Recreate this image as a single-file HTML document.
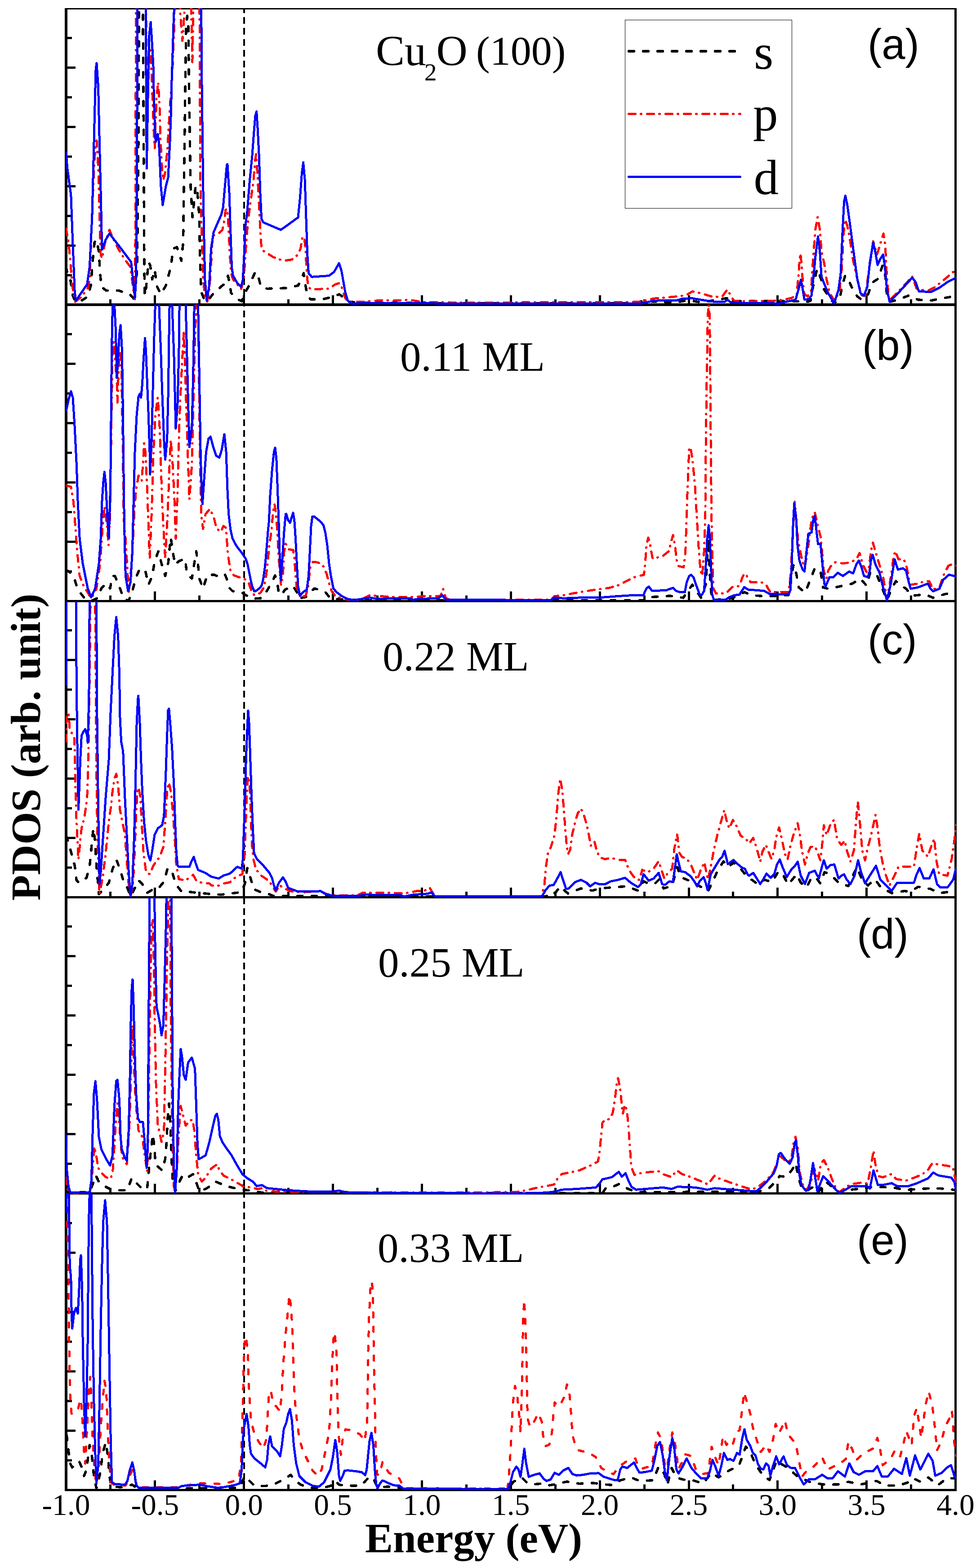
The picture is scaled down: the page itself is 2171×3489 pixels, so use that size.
<!DOCTYPE html>
<html><head><meta charset="utf-8"><title>PDOS</title>
<style>
html,body{margin:0;padding:0;background:#fff;}
body{width:2171px;height:3489px;overflow:hidden;position:relative;}
svg{position:absolute;left:0;top:0;}
.t{font-family:"Liberation Serif","Times New Roman",serif;}
.s{font-family:"Liberation Sans",Arial,sans-serif;}
</style></head><body>
<svg width="2171" height="3489" viewBox="0 0 2171 3489" shape-rendering="crispEdges">
<rect x="0" y="0" width="2171" height="3489" fill="#fff"/>
<line x1="543" y1="21" x2="543" y2="3313" stroke="#000" stroke-width="4" stroke-dasharray="15 9.18" stroke-dashoffset="7"/>
<g fill="#000">
<rect x="144" y="18" width="6" height="3300"/>
<rect x="2123" y="18" width="5" height="3300"/>
<rect x="144" y="18" width="1984" height="3"/>
<rect x="144" y="675" width="1984" height="6"/>
<rect x="144" y="1335" width="1984" height="5"/>
<rect x="144" y="1994" width="1984" height="5"/>
<rect x="144" y="2653" width="1984" height="5"/>
<rect x="144" y="3313" width="1984" height="5"/>
</g>
<g fill="#000">
<rect x="243.4" y="665.5" width="5" height="10"/>
<rect x="342.4" y="656.5" width="5" height="19"/>
<rect x="441.3" y="665.5" width="5" height="10"/>
<rect x="540.2" y="656.5" width="5" height="19"/>
<rect x="639.1" y="665.5" width="5" height="10"/>
<rect x="738.0" y="656.5" width="5" height="19"/>
<rect x="837.0" y="665.5" width="5" height="10"/>
<rect x="935.9" y="656.5" width="5" height="19"/>
<rect x="1034.8" y="665.5" width="5" height="10"/>
<rect x="1133.8" y="656.5" width="5" height="19"/>
<rect x="1232.7" y="665.5" width="5" height="10"/>
<rect x="1331.6" y="656.5" width="5" height="19"/>
<rect x="1430.5" y="665.5" width="5" height="10"/>
<rect x="1529.5" y="656.5" width="5" height="19"/>
<rect x="1628.4" y="665.5" width="5" height="10"/>
<rect x="1727.3" y="656.5" width="5" height="19"/>
<rect x="1826.2" y="665.5" width="5" height="10"/>
<rect x="1925.1" y="656.5" width="5" height="19"/>
<rect x="2024.1" y="665.5" width="5" height="10"/>
<rect x="150" y="609.5" width="10" height="5"/>
<rect x="150" y="543.5" width="18" height="5"/>
<rect x="150" y="477.5" width="10" height="5"/>
<rect x="150" y="411.5" width="18" height="5"/>
<rect x="150" y="345.5" width="10" height="5"/>
<rect x="150" y="279.5" width="18" height="5"/>
<rect x="150" y="213.5" width="10" height="5"/>
<rect x="150" y="147.5" width="18" height="5"/>
<rect x="150" y="81.5" width="10" height="5"/>
<rect x="243.4" y="1325.0" width="5" height="10"/>
<rect x="342.4" y="1316.0" width="5" height="19"/>
<rect x="441.3" y="1325.0" width="5" height="10"/>
<rect x="540.2" y="1316.0" width="5" height="19"/>
<rect x="639.1" y="1325.0" width="5" height="10"/>
<rect x="738.0" y="1316.0" width="5" height="19"/>
<rect x="837.0" y="1325.0" width="5" height="10"/>
<rect x="935.9" y="1316.0" width="5" height="19"/>
<rect x="1034.8" y="1325.0" width="5" height="10"/>
<rect x="1133.8" y="1316.0" width="5" height="19"/>
<rect x="1232.7" y="1325.0" width="5" height="10"/>
<rect x="1331.6" y="1316.0" width="5" height="19"/>
<rect x="1430.5" y="1325.0" width="5" height="10"/>
<rect x="1529.5" y="1316.0" width="5" height="19"/>
<rect x="1628.4" y="1325.0" width="5" height="10"/>
<rect x="1727.3" y="1316.0" width="5" height="19"/>
<rect x="1826.2" y="1325.0" width="5" height="10"/>
<rect x="1925.1" y="1316.0" width="5" height="19"/>
<rect x="2024.1" y="1325.0" width="5" height="10"/>
<rect x="150" y="1269.0" width="10" height="5"/>
<rect x="150" y="1203.0" width="18" height="5"/>
<rect x="150" y="1137.0" width="10" height="5"/>
<rect x="150" y="1071.0" width="18" height="5"/>
<rect x="150" y="1005.0" width="10" height="5"/>
<rect x="150" y="939.0" width="18" height="5"/>
<rect x="150" y="873.0" width="10" height="5"/>
<rect x="150" y="807.0" width="18" height="5"/>
<rect x="150" y="741.0" width="10" height="5"/>
<rect x="243.4" y="1984.0" width="5" height="10"/>
<rect x="342.4" y="1975.0" width="5" height="19"/>
<rect x="441.3" y="1984.0" width="5" height="10"/>
<rect x="540.2" y="1975.0" width="5" height="19"/>
<rect x="639.1" y="1984.0" width="5" height="10"/>
<rect x="738.0" y="1975.0" width="5" height="19"/>
<rect x="837.0" y="1984.0" width="5" height="10"/>
<rect x="935.9" y="1975.0" width="5" height="19"/>
<rect x="1034.8" y="1984.0" width="5" height="10"/>
<rect x="1133.8" y="1975.0" width="5" height="19"/>
<rect x="1232.7" y="1984.0" width="5" height="10"/>
<rect x="1331.6" y="1975.0" width="5" height="19"/>
<rect x="1430.5" y="1984.0" width="5" height="10"/>
<rect x="1529.5" y="1975.0" width="5" height="19"/>
<rect x="1628.4" y="1984.0" width="5" height="10"/>
<rect x="1727.3" y="1975.0" width="5" height="19"/>
<rect x="1826.2" y="1984.0" width="5" height="10"/>
<rect x="1925.1" y="1975.0" width="5" height="19"/>
<rect x="2024.1" y="1984.0" width="5" height="10"/>
<rect x="150" y="1928.0" width="10" height="5"/>
<rect x="150" y="1862.0" width="18" height="5"/>
<rect x="150" y="1796.0" width="10" height="5"/>
<rect x="150" y="1730.0" width="18" height="5"/>
<rect x="150" y="1664.0" width="10" height="5"/>
<rect x="150" y="1598.0" width="18" height="5"/>
<rect x="150" y="1532.0" width="10" height="5"/>
<rect x="150" y="1466.0" width="18" height="5"/>
<rect x="150" y="1400.0" width="10" height="5"/>
<rect x="243.4" y="2643.0" width="5" height="10"/>
<rect x="342.4" y="2634.0" width="5" height="19"/>
<rect x="441.3" y="2643.0" width="5" height="10"/>
<rect x="540.2" y="2634.0" width="5" height="19"/>
<rect x="639.1" y="2643.0" width="5" height="10"/>
<rect x="738.0" y="2634.0" width="5" height="19"/>
<rect x="837.0" y="2643.0" width="5" height="10"/>
<rect x="935.9" y="2634.0" width="5" height="19"/>
<rect x="1034.8" y="2643.0" width="5" height="10"/>
<rect x="1133.8" y="2634.0" width="5" height="19"/>
<rect x="1232.7" y="2643.0" width="5" height="10"/>
<rect x="1331.6" y="2634.0" width="5" height="19"/>
<rect x="1430.5" y="2643.0" width="5" height="10"/>
<rect x="1529.5" y="2634.0" width="5" height="19"/>
<rect x="1628.4" y="2643.0" width="5" height="10"/>
<rect x="1727.3" y="2634.0" width="5" height="19"/>
<rect x="1826.2" y="2643.0" width="5" height="10"/>
<rect x="1925.1" y="2634.0" width="5" height="19"/>
<rect x="2024.1" y="2643.0" width="5" height="10"/>
<rect x="150" y="2587.0" width="10" height="5"/>
<rect x="150" y="2521.0" width="18" height="5"/>
<rect x="150" y="2455.0" width="10" height="5"/>
<rect x="150" y="2389.0" width="18" height="5"/>
<rect x="150" y="2323.0" width="10" height="5"/>
<rect x="150" y="2257.0" width="18" height="5"/>
<rect x="150" y="2191.0" width="10" height="5"/>
<rect x="150" y="2125.0" width="18" height="5"/>
<rect x="150" y="2059.0" width="10" height="5"/>
<rect x="243.4" y="3303.0" width="5" height="10"/>
<rect x="342.4" y="3294.0" width="5" height="19"/>
<rect x="441.3" y="3303.0" width="5" height="10"/>
<rect x="540.2" y="3294.0" width="5" height="19"/>
<rect x="639.1" y="3303.0" width="5" height="10"/>
<rect x="738.0" y="3294.0" width="5" height="19"/>
<rect x="837.0" y="3303.0" width="5" height="10"/>
<rect x="935.9" y="3294.0" width="5" height="19"/>
<rect x="1034.8" y="3303.0" width="5" height="10"/>
<rect x="1133.8" y="3294.0" width="5" height="19"/>
<rect x="1232.7" y="3303.0" width="5" height="10"/>
<rect x="1331.6" y="3294.0" width="5" height="19"/>
<rect x="1430.5" y="3303.0" width="5" height="10"/>
<rect x="1529.5" y="3294.0" width="5" height="19"/>
<rect x="1628.4" y="3303.0" width="5" height="10"/>
<rect x="1727.3" y="3294.0" width="5" height="19"/>
<rect x="1826.2" y="3303.0" width="5" height="10"/>
<rect x="1925.1" y="3294.0" width="5" height="19"/>
<rect x="2024.1" y="3303.0" width="5" height="10"/>
<rect x="150" y="3247.0" width="10" height="5"/>
<rect x="150" y="3181.0" width="18" height="5"/>
<rect x="150" y="3115.0" width="10" height="5"/>
<rect x="150" y="3049.0" width="18" height="5"/>
<rect x="150" y="2983.0" width="10" height="5"/>
<rect x="150" y="2917.0" width="18" height="5"/>
<rect x="150" y="2851.0" width="10" height="5"/>
<rect x="150" y="2785.0" width="18" height="5"/>
<rect x="150" y="2719.0" width="10" height="5"/>
</g>
<defs><clipPath id="c0"><rect x="146" y="18" width="1981" height="672"/></clipPath><clipPath id="c1"><rect x="146" y="677.5" width="1981" height="672.5"/></clipPath><clipPath id="c2"><rect x="146" y="1337.5" width="1981" height="672.5"/></clipPath><clipPath id="c3"><rect x="146" y="1996.5" width="1981" height="673.5"/></clipPath><clipPath id="c4"><rect x="146" y="2655.5" width="1981" height="674.5"/></clipPath></defs>
<g clip-path="url(#c0)" fill="none" stroke-linejoin="round">
<polyline points="146.9,594.0 151.0,613.5 156.5,621.7 162.0,657.6 167.6,671.4 181.4,668.6 195.2,660.3 202.0,635.5 206.2,580.4 210.3,539.0 215.0,533.5 220.0,561.0 222.7,608.0 225.5,638.3 236.5,646.6 264.1,646.6 288.9,654.8 298.6,665.9 305.0,600.0 308.0,300.0 309.5,-40.0 317.5,-40.0 319.5,300.0 321.0,600.0 322.0,657.6 325.0,640.0 330.3,583.0 334.0,590.0 338.6,621.7 344.0,600.0 349.6,638.3 357.9,654.8 368.9,635.5 380.0,594.0 385.4,552.8 393.7,550.0 403.4,580.4 407.5,539.0 408.9,428.7 411.6,235.6 414.0,60.0 416.5,35.0 419.0,60.0 421.0,235.0 424.0,415.0 428.2,483.8 435.0,415.0 438.0,415.0 443.4,483.8 444.7,566.6 447.5,649.3 453.0,663.0 460.0,671.4 471.0,657.6 475.5,652.1 497.6,632.8 507.2,613.5 511.4,635.5 514.1,652.1 527.9,665.9 537.6,670.0 544.5,652.1 555.5,632.8 566.5,608.0 570.7,605.2 576.2,621.7 580.3,638.3 594.1,642.4 635.5,641.0 663.0,635.5 672.7,616.2 675.5,608.0 679.6,635.5 683.7,657.6 690.6,665.9 718.2,665.9 745.8,659.0 754.1,654.8 762.3,660.3 773.4,671.4 810.0,674.0 1400.0,675.0 1431.7,670.0 1500.0,673.0 1532.0,668.0 1560.0,673.0 1619.6,663.0 1630.0,670.0 1770.0,670.0 1791.8,672.9 1802.8,669.2 1809.0,635.0 1817.5,598.2 1826.1,620.3 1833.4,644.7 1843.2,659.4 1855.4,675.3 1867.7,664.3 1873.8,635.0 1880.0,613.0 1887.3,622.7 1897.0,644.7 1906.8,659.4 1916.6,666.8 1931.3,654.5 1938.7,630.0 1953.3,620.3 1963.1,590.9 1968.0,600.0 1972.9,657.0 1979.0,671.7 1997.4,666.8 2023.1,657.0 2041.4,666.8 2068.4,669.2 2092.8,664.3 2114.9,660.6 2127.0,659.4" stroke="#000" stroke-width="5.5" stroke-linecap="round" stroke-dasharray="11 21"/>
<polyline points="146.9,508.6 152.4,539.0 156.5,580.4 160.7,635.5 167.6,671.4 181.4,660.3 195.2,641.0 199.3,621.7 204.8,483.8 209.0,373.5 213.1,318.4 215.0,312.8 218.6,373.5 221.4,483.8 224.1,566.6 226.9,574.8 233.8,539.0 243.4,511.4 250.3,528.0 264.1,555.5 277.9,577.6 290.3,594.2 297.2,649.3 300.0,665.9 301.5,483.8 302.0,200.0 302.5,-40.0 324.5,-40.0 325.5,100.0 327.0,316.0 329.5,200.0 332.0,118.0 334.5,110.0 337.5,173.5 340.7,252.7 342.3,300.0 344.0,330.0 348.0,220.0 351.8,183.0 355.0,236.8 356.5,300.0 358.1,332.0 359.7,363.6 362.9,401.0 366.8,387.0 372.4,332.0 377.1,252.7 383.5,157.6 387.4,62.5 389.0,-40.0 399.0,-40.0 401.0,30.8 405.7,91.0 410.0,30.0 412.0,-40.0 424.0,-40.0 427.9,138.6 431.0,-40.0 443.0,-40.0 444.5,100.0 445.5,400.0 448.0,500.0 452.0,621.0 456.0,660.0 461.0,671.0 466.0,640.0 470.0,580.0 472.8,525.2 486.5,519.7 494.8,511.4 499.0,489.4 501.7,467.3 504.5,464.6 507.2,483.8 511.4,566.6 514.1,608.0 518.3,621.7 527.9,632.8 536.2,643.8 542.3,621.7 545.8,566.6 550.0,511.4 552.7,483.8 558.3,442.5 563.8,401.0 567.9,354.2 569.8,343.2 572.6,387.3 576.2,456.3 578.9,511.4 581.7,552.8 585.8,558.3 607.9,572.1 630.0,580.4 649.3,577.6 663.0,566.6 668.6,552.8 672.7,528.0 676.3,526.6 679.6,552.8 682.4,608.0 685.1,635.5 690.6,643.8 732.0,642.4 745.8,632.8 754.1,630.0 759.6,638.3 767.8,663.0 776.1,672.7 810.0,671.0 850.0,668.0 880.0,669.0 910.0,667.0 940.0,672.0 1000.0,673.0 1140.0,673.0 1300.0,672.0 1400.0,672.3 1426.5,671.0 1453.0,664.3 1479.4,662.2 1511.0,659.0 1527.0,656.4 1540.2,648.5 1558.7,652.4 1585.0,660.4 1606.3,660.4 1617.5,644.5 1624.9,656.4 1632.8,669.6 1664.6,670.2 1717.5,669.6 1744.0,667.0 1760.0,663.1 1772.2,657.0 1775.9,615.4 1779.6,566.4 1780.4,563.8 1783.3,590.9 1785.7,627.6 1789.4,654.5 1796.7,659.4 1804.0,647.2 1809.0,571.3 1813.8,510.1 1818.7,483.2 1823.6,510.1 1827.3,559.1 1833.4,586.0 1838.3,620.3 1845.7,652.1 1853.0,664.3 1857.9,669.2 1867.7,644.7 1872.6,595.8 1876.2,522.4 1879.9,488.1 1884.8,502.8 1889.7,527.3 1897.0,576.2 1906.8,620.3 1916.6,657.0 1925.0,657.0 1933.8,595.8 1942.3,537.0 1950.9,566.4 1958.2,542.0 1965.1,519.9 1969.2,546.8 1972.9,620.3 1977.8,669.2 2004.7,642.3 2029.2,615.4 2039.0,642.3 2046.3,644.7 2065.9,646.0 2078.2,639.8 2102.6,620.3 2119.8,605.6 2127.0,601.9" stroke="#f00" stroke-width="5" stroke-linecap="round" stroke-dasharray="15 12 1 13"/>
<polyline points="146.9,337.7 149.7,373.5 157.9,434.0 160.7,511.4 166.2,649.3 169.0,668.6 193.8,632.8 199.3,594.0 204.8,483.8 207.6,373.5 210.3,263.2 213.1,152.9 215.0,140.5 218.6,194.3 221.4,318.4 224.1,428.7 226.9,555.5 235.1,533.5 243.4,519.7 266.9,550.0 291.7,583.1 295.8,621.7 300.0,663.0 302.7,621.7 304.1,428.7 305.5,152.9 306.0,-40.0 323.0,-40.0 324.0,18.0 326.4,374.7 329.6,173.5 332.0,78.4 335.2,49.0 339.1,110.0 341.5,157.6 342.3,221.0 344.7,284.4 346.3,316.0 351.0,298.6 353.4,316.0 355.0,347.8 357.9,414.9 362.0,456.3 368.9,414.9 374.0,395.0 378.0,316.0 380.3,252.7 381.9,181.4 384.3,110.0 385.9,54.6 387.4,18.0 388.0,-40.0 446.0,-40.0 447.7,18.0 448.9,180.5 451.6,400.0 452.5,456.3 455.8,621.7 459.9,668.6 465.4,635.5 469.6,552.8 475.1,517.0 479.7,506.0 492.0,478.3 496.2,461.8 500.3,414.9 504.5,368.0 505.9,365.2 510.0,428.7 512.7,511.4 515.5,594.2 518.3,613.5 527.9,630.0 536.2,638.3 540.3,621.7 543.1,566.6 545.8,503.1 550.0,470.0 555.5,401.0 561.0,346.0 565.1,290.8 567.9,257.7 570.7,248.0 573.4,290.8 576.2,346.0 578.9,428.7 581.7,486.6 585.8,494.9 624.4,511.4 632.7,505.9 663.0,483.8 667.2,442.5 671.3,387.3 674.6,361.1 678.2,401.0 680.9,483.8 683.7,566.6 686.5,608.0 693.4,616.2 732.0,613.5 743.0,605.2 754.1,585.9 759.6,602.4 767.8,649.3 773.4,668.6 781.6,675.5 810.0,674.5 900.0,674.0 1000.0,675.5 1400.0,675.0 1426.5,675.0 1453.0,669.6 1474.0,668.3 1505.8,668.3 1519.0,664.3 1540.2,663.8 1558.7,667.0 1585.0,671.0 1611.6,671.5 1618.3,667.0 1624.9,672.3 1651.3,674.4 1717.5,674.4 1730.7,676.2 1744.0,672.3 1760.0,669.2 1769.8,666.8 1775.9,644.7 1781.5,622.7 1785.7,644.7 1789.4,666.8 1799.2,665.5 1805.3,657.0 1809.0,620.3 1813.8,571.3 1819.5,526.0 1823.6,559.1 1827.3,615.4 1831.0,625.2 1840.8,649.6 1855.4,675.3 1865.2,644.7 1870.1,608.0 1873.8,522.4 1877.5,449.0 1880.4,435.5 1884.8,456.3 1892.2,510.1 1899.5,566.4 1906.8,620.3 1914.2,652.1 1921.5,658.2 1928.9,639.8 1935.0,583.6 1942.3,539.5 1947.2,561.5 1952.1,589.7 1958.2,576.2 1964.4,566.4 1968.0,590.9 1972.9,644.7 1979.0,671.7 2004.7,644.7 2029.2,617.8 2036.6,627.6 2043.9,648.4 2070.8,649.6 2090.4,639.8 2107.5,627.6 2127.0,617.8" stroke="#00f" stroke-width="5"/>
</g>
<g clip-path="url(#c1)" fill="none" stroke-linejoin="round">
<polyline points="146.9,1268.0 159.3,1276.2 166.2,1290.0 173.1,1312.0 188.3,1331.4 203.4,1337.0 215.8,1331.4 225.5,1309.3 236.5,1298.3 244.8,1309.3 250.3,1281.7 255.8,1281.7 266.9,1309.3 275.1,1331.4 286.2,1337.0 294.4,1314.8 302.7,1284.5 311.0,1265.2 323.4,1270.7 330.3,1301.0 338.6,1281.7 344.1,1248.6 352.4,1226.6 359.3,1254.2 367.5,1281.7 374.4,1251.4 377.2,1221.0 379.9,1196.2 384.1,1226.6 389.6,1256.9 397.9,1248.6 411.6,1243.1 415.8,1276.2 426.8,1287.3 436.5,1226.6 440.6,1256.9 443.4,1287.3 451.6,1309.3 461.3,1279.0 476.5,1279.0 488.0,1283.8 500.4,1278.2 504.9,1289.4 509.4,1307.4 517.2,1315.3 530.7,1318.7 539.7,1319.8 554.3,1328.8 563.3,1332.1 581.3,1331.0 591.4,1318.7 599.3,1305.2 606.0,1293.9 611.7,1280.4 616.2,1292.8 620.7,1323.1 627.4,1322.0 634.2,1311.9 646.5,1306.5 652.0,1303.8 660.3,1317.6 663.0,1331.4 679.6,1328.6 687.9,1320.3 698.9,1309.3 710.0,1312.0 723.7,1317.6 734.8,1331.4 745.8,1332.8 810.0,1335.5 1440.0,1336.0 1449.0,1328.6 1490.3,1325.9 1520.0,1330.0 1540.0,1301.0 1551.0,1317.6 1559.3,1330.0 1570.0,1300.0 1575.8,1199.0 1580.0,1300.0 1584.0,1335.5 1628.2,1331.4 1655.8,1317.6 1672.3,1324.5 1705.4,1327.2 1754.0,1324.2 1759.7,1284.4 1765.4,1256.0 1771.1,1275.9 1776.8,1307.2 1791.0,1318.5 1802.4,1290.1 1812.3,1264.5 1825.1,1270.2 1830.8,1307.2 1842.2,1310.0 1870.6,1304.3 1896.2,1298.6 1913.3,1287.3 1927.5,1302.9 1936.1,1273.0 1950.3,1278.7 1961.7,1307.2 1973.0,1335.6 1984.4,1307.2 1993.0,1293.0 2001.5,1301.5 2015.7,1310.0 2027.1,1325.6 2058.4,1322.8 2075.4,1330.0 2103.9,1321.4 2127.0,1320.0" stroke="#000" stroke-width="5.5" stroke-linecap="round" stroke-dasharray="11 21"/>
<polyline points="146.9,1080.4 157.9,1083.2 163.4,1116.3 167.6,1171.4 171.7,1226.6 177.2,1281.7 186.9,1306.0 195.0,1318.0 202.5,1331.0 207.0,1325.0 214.5,1310.0 222.7,1254.2 228.3,1171.4 232.4,1127.3 237.9,1165.9 241.5,1212.8 244.8,1143.8 247.6,950.8 250.3,785.3 253.0,760.0 256.0,800.0 260.0,854.3 261.3,895.6 264.1,812.9 267.0,780.0 270.0,820.0 272.5,950.0 275.0,1150.0 279.3,1199.0 286.2,1317.6 293.1,1254.2 298.6,1143.8 302.7,1088.7 308.2,1058.3 315.1,1069.4 317.9,1033.5 320.6,986.6 323.4,1005.9 327.5,1088.7 330.3,1171.4 333.0,1243.1 337.2,1143.8 341.3,1005.9 345.5,923.2 351.0,884.6 355.1,950.8 357.9,1033.5 360.6,1116.3 364.8,1199.0 367.5,1240.4 373.0,1143.8 377.2,1033.5 379.9,978.4 384.1,1033.5 388.2,1116.3 391.0,1199.0 395.1,1088.7 397.9,978.4 400.6,895.6 404.8,812.9 408.9,735.7 411.6,812.9 415.8,950.8 418.5,1033.5 421.3,1110.7 426.8,1033.5 429.6,923.2 432.3,812.9 435.1,716.4 437.8,675.0 439.0,640.0 440.0,640.0 442.0,785.3 444.7,1005.9 447.5,1143.8 451.6,1177.0 457.2,1143.8 466.8,1132.8 475.1,1149.4 480.1,1169.1 483.5,1177.5 491.4,1183.7 497.0,1170.2 502.6,1174.7 503.7,1189.4 504.9,1204.0 505.4,1215.2 507.1,1234.3 508.8,1245.6 510.5,1256.8 512.7,1270.3 517.2,1277.0 520.6,1280.4 531.8,1284.4 543.1,1288.3 548.7,1290.6 553.2,1296.2 556.6,1307.4 561.1,1318.7 565.6,1324.3 570.1,1324.3 579.1,1319.2 586.9,1307.4 591.4,1284.9 593.7,1268.1 595.9,1245.6 599.3,1211.8 602.7,1189.4 604.9,1166.9 608.0,1135.0 610.7,1121.8 613.5,1140.0 616.0,1170.0 620.0,1240.0 625.2,1301.8 629.7,1273.7 631.9,1228.7 635.5,1210.0 642.4,1222.4 652.0,1223.8 654.8,1240.4 657.5,1281.7 660.3,1309.3 665.8,1323.1 668.6,1328.6 679.6,1325.9 685.1,1309.3 687.9,1281.7 690.6,1259.7 696.1,1250.0 707.2,1251.4 718.2,1258.3 726.5,1276.2 732.0,1298.3 737.5,1314.8 745.8,1325.9 759.6,1331.4 773.4,1334.1 801.0,1335.5 822.3,1324.5 870.7,1328.5 923.1,1328.5 943.3,1326.5 979.6,1326.5 985.6,1310.3 991.7,1330.5 1000.0,1334.5 1225.7,1334.5 1233.7,1326.5 1253.9,1324.5 1274.0,1320.4 1314.4,1313.6 1354.7,1308.3 1374.9,1302.3 1396.5,1291.4 1410.3,1284.5 1421.4,1281.7 1432.4,1279.0 1435.2,1254.2 1437.9,1212.8 1442.1,1196.2 1446.2,1212.8 1451.7,1243.1 1462.7,1240.4 1473.8,1237.6 1487.6,1226.6 1493.1,1204.5 1497.2,1190.7 1501.3,1212.8 1505.5,1248.6 1509.6,1259.7 1520.7,1262.4 1524.8,1226.6 1527.5,1143.8 1530.3,1061.1 1533.1,997.7 1535.8,994.9 1540.0,1019.7 1545.5,1074.9 1549.6,1143.8 1553.7,1212.8 1557.9,1268.0 1562.0,1281.7 1566.2,1226.6 1568.9,1143.8 1570.3,950.8 1573.0,785.3 1574.4,702.6 1576.4,677.8 1578.6,702.6 1580.0,840.5 1581.3,1005.9 1582.7,1143.8 1584.1,1226.6 1586.8,1309.3 1592.4,1320.3 1614.4,1320.3 1628.2,1306.5 1644.8,1303.8 1650.3,1287.3 1655.8,1276.2 1661.3,1281.7 1669.6,1295.5 1691.6,1295.5 1702.7,1298.3 1708.2,1309.3 1713.7,1317.6 1722.8,1317.1 1754.0,1317.1 1759.7,1270.2 1762.6,1199.1 1767.7,1116.6 1772.5,1170.6 1775.4,1204.8 1785.0,1250.0 1790.0,1262.0 1794.0,1240.0 1798.1,1213.3 1805.2,1156.4 1812.3,1139.4 1819.5,1170.6 1825.1,1193.4 1828.0,1221.8 1832.3,1270.2 1837.9,1287.3 1842.2,1270.2 1847.9,1260.2 1859.3,1250.3 1870.6,1253.1 1882.0,1253.0 1893.4,1250.3 1904.8,1244.6 1911.9,1230.4 1919.0,1256.0 1927.5,1273.0 1933.2,1261.7 1937.5,1224.7 1941.7,1207.6 1947.4,1227.5 1956.0,1256.0 1964.5,1284.4 1973.0,1332.8 1981.6,1284.4 1987.3,1241.8 1991.5,1226.1 1998.6,1244.6 2010.0,1244.6 2015.7,1256.0 2020.0,1278.7 2024.2,1301.5 2041.3,1298.6 2058.4,1293.0 2066.9,1293.0 2075.4,1311.4 2089.6,1307.2 2098.2,1281.6 2109.6,1258.8 2116.7,1256.0 2127.0,1258.8" stroke="#f00" stroke-width="5" stroke-linecap="round" stroke-dasharray="15 12 1 13"/>
<polyline points="146.9,915.0 152.4,890.0 157.9,870.8 162.0,884.6 166.2,950.8 170.3,1033.5 173.1,1116.3 177.2,1199.0 184.1,1254.2 195.2,1309.3 202.9,1329.0 211.7,1309.3 220.0,1254.2 224.1,1199.0 226.9,1116.3 229.6,1074.9 232.4,1050.0 235.1,1074.9 239.3,1157.6 242.0,1196.2 244.8,1116.3 246.2,1033.5 247.6,868.0 248.9,757.7 250.3,688.8 252.0,670.0 254.5,677.8 257.2,730.2 260.0,840.5 263.0,790.0 265.5,744.0 268.2,723.3 271.0,771.5 272.4,840.5 273.8,950.8 275.1,1061.1 276.5,1171.4 279.3,1281.7 284.8,1314.8 290.3,1295.5 294.4,1226.6 297.2,1116.3 300.0,1005.9 304.1,923.2 308.2,881.8 311.0,876.3 313.7,884.6 316.5,854.3 319.3,799.1 322.6,752.2 324.8,785.3 327.5,854.3 330.3,923.2 333.0,1005.9 333.9,1055.6 337.2,978.4 340.0,868.0 342.7,757.7 345.5,675.0 346.5,640.0 352.7,640.0 353.7,675.0 357.9,785.3 360.6,868.0 364.8,978.4 367.5,1022.5 371.7,978.4 374.4,868.0 375.8,757.7 377.2,675.0 378.0,640.0 382.0,640.0 382.7,675.0 386.8,785.3 389.6,895.6 391.0,953.5 395.1,895.6 397.9,785.3 399.2,675.0 400.0,640.0 412.0,640.0 413.0,675.0 415.8,785.3 418.5,895.6 421.3,994.9 426.8,950.8 429.6,840.5 431.0,757.7 432.3,675.0 433.0,640.0 440.0,640.0 440.6,675.0 443.4,840.5 446.1,1005.9 448.9,1102.5 450.3,1121.8 454.4,1061.1 458.5,1005.9 464.0,975.6 468.2,971.5 473.7,992.2 481.0,1014.2 487.9,1018.4 493.4,1000.4 499.0,966.0 503.1,1006.0 505.9,1088.7 508.6,1143.8 509.4,1150.0 512.7,1178.1 517.2,1198.3 526.2,1215.2 537.5,1229.8 546.5,1243.3 551.0,1256.8 554.3,1273.7 557.7,1290.6 561.1,1305.2 565.6,1315.3 568.9,1315.3 577.9,1308.5 582.4,1301.8 585.8,1287.2 589.2,1262.4 591.4,1240.0 593.7,1211.8 595.9,1183.7 598.2,1161.2 601.0,1102.5 605.1,1047.3 609.3,1005.9 612.0,996.3 614.8,1019.7 617.5,1088.7 620.3,1171.4 622.9,1262.4 624.6,1291.7 626.8,1262.4 629.7,1217.5 631.9,1183.7 635.5,1143.8 636.9,1143.8 641.0,1157.6 645.1,1163.1 652.0,1141.0 654.8,1157.6 657.5,1199.0 660.3,1254.2 663.0,1303.8 667.2,1325.9 674.1,1317.6 682.4,1312.0 686.5,1281.7 689.3,1226.6 692.0,1171.4 694.8,1149.4 698.9,1149.4 712.7,1160.4 719.6,1168.7 723.7,1185.2 727.9,1212.8 732.0,1254.2 736.1,1281.7 741.6,1309.3 748.5,1317.6 759.6,1325.9 773.4,1332.8 787.2,1335.5 806.0,1332.5 822.3,1329.7 838.4,1332.5 870.7,1331.7 911.0,1331.3 919.0,1334.5 931.2,1332.5 975.6,1331.3 983.6,1324.5 991.7,1334.5 1225.7,1335.4 1233.7,1329.7 1253.9,1331.3 1294.2,1329.7 1334.6,1329.7 1374.9,1326.5 1407.6,1324.5 1431.0,1324.5 1437.9,1309.3 1443.4,1305.2 1450.3,1314.8 1482.0,1313.4 1497.2,1307.9 1504.1,1314.8 1512.4,1317.6 1523.4,1317.6 1527.5,1295.5 1533.1,1281.7 1537.2,1279.0 1542.7,1284.5 1548.2,1301.0 1556.5,1323.1 1560.6,1324.5 1566.2,1314.8 1570.3,1254.2 1573.0,1199.0 1576.4,1168.7 1579.1,1199.0 1581.3,1254.2 1584.1,1323.1 1588.2,1335.5 1614.4,1334.1 1622.7,1328.6 1633.7,1324.5 1644.8,1323.1 1655.8,1306.5 1664.1,1312.0 1683.4,1313.4 1699.9,1314.8 1711.4,1321.4 1754.0,1322.8 1758.3,1312.9 1761.1,1256.0 1764.0,1170.6 1766.8,1119.5 1771.1,1156.4 1774.0,1213.3 1778.2,1247.4 1785.3,1267.4 1789.6,1271.6 1793.9,1227.5 1798.1,1187.7 1805.2,1184.9 1809.5,1153.6 1812.3,1147.9 1816.6,1184.9 1819.5,1210.5 1825.1,1210.5 1829.4,1256.0 1833.7,1298.6 1836.5,1304.3 1845.0,1284.4 1853.6,1284.4 1863.5,1274.5 1874.9,1281.6 1889.1,1271.6 1897.7,1275.9 1904.8,1256.0 1910.5,1247.4 1916.2,1261.7 1921.8,1281.6 1930.4,1284.4 1934.6,1270.2 1937.5,1244.6 1941.2,1234.6 1947.4,1256.0 1956.0,1273.0 1964.5,1307.2 1973.0,1335.6 1981.6,1298.6 1985.8,1270.2 1990.1,1244.6 1997.2,1267.4 2008.6,1264.5 2015.7,1270.2 2020.0,1290.1 2025.6,1310.0 2041.3,1307.2 2064.0,1298.6 2069.7,1310.0 2075.4,1315.7 2089.6,1310.0 2098.2,1290.1 2111.0,1278.7 2127.0,1283.0" stroke="#00f" stroke-width="5"/>
</g>
<g clip-path="url(#c2)" fill="none" stroke-linejoin="round">
<polyline points="146.9,1860.0 149.7,1866.6 156.5,1890.0 166.2,1926.0 170.3,1959.0 175.9,1964.5 192.4,1953.5 199.3,1928.7 202.0,1901.1 204.8,1870.8 207.6,1843.2 211.7,1873.5 213.1,1903.9 215.8,1939.7 220.0,1989.4 228.3,1981.1 242.0,1964.5 250.3,1934.2 258.6,1912.1 266.9,1934.2 275.1,1961.8 283.4,1975.6 290.3,1994.9 300.0,1975.6 308.2,1959.0 316.5,1967.3 327.5,1986.6 341.3,1978.3 351.0,1978.3 364.8,1961.8 373.0,1931.5 382.7,1939.7 391.0,1967.3 404.8,1985.2 415.8,1983.9 437.8,1986.6 471.0,1989.4 492.0,1990.8 525.2,1986.6 536.2,1985.2 544.5,1967.3 550.0,1931.5 555.5,1948.0 559.6,1961.8 563.8,1978.3 580.3,1985.2 591.3,1986.6 607.9,1993.5 1215.0,1995.0 1221.6,1986.7 1235.0,1987.0 1245.8,1972.6 1263.5,1988.1 1292.1,1977.0 1317.5,1981.7 1333.3,1977.0 1371.4,1973.8 1393.7,1972.2 1419.0,1981.7 1431.7,1961.1 1445.0,1967.0 1457.1,1965.9 1466.7,1956.3 1476.2,1977.0 1495.2,1970.6 1506.3,1929.4 1514.3,1951.6 1536.5,1961.1 1549.2,1967.5 1574.6,1983.3 1587.3,1957.9 1596.8,1935.7 1609.5,1916.7 1619.0,1929.4 1631.7,1919.8 1645.0,1930.0 1660.0,1948.4 1684.9,1967.1 1700.4,1957.7 1717.5,1962.4 1731.5,1939.1 1741.0,1945.0 1753.3,1968.6 1771.9,1945.3 1781.2,1964.0 1793.7,1974.8 1806.1,1951.5 1815.0,1953.0 1824.7,1965.5 1834.1,1940.6 1846.5,1945.3 1865.2,1964.0 1886.9,1971.7 1905.6,1929.8 1918.0,1957.7 1930.4,1970.2 1946.0,1956.2 1958.4,1973.3 1983.3,1987.3 2011.3,1982.6 2025.0,1984.0 2042.3,1973.3 2070.3,1978.0 2089.0,1987.3 2113.8,1984.2 2127.0,1979.5" stroke="#000" stroke-width="5.5" stroke-linecap="round" stroke-dasharray="11 21"/>
<polyline points="146.9,1650.0 148.3,1595.0 152.4,1586.7 155.2,1622.6 159.3,1630.8 164.8,1636.4 166.2,1664.0 167.6,1746.7 170.3,1829.4 173.1,1884.6 174.5,1912.1 177.2,1884.6 181.4,1843.2 188.3,1815.6 193.8,1774.3 196.5,1691.5 197.9,1608.8 199.3,1498.5 200.7,1388.2 201.5,1300.0 211.0,1300.0 211.7,1333.0 213.1,1498.5 214.5,1719.1 217.2,1884.6 221.4,1989.4 228.3,1953.5 235.1,1898.4 242.0,1829.4 247.6,1788.0 250.3,1760.5 254.5,1732.9 258.6,1721.9 262.7,1746.7 266.9,1801.8 272.4,1829.4 277.9,1857.0 282.0,1912.1 286.2,1967.3 290.3,1994.9 295.8,1967.3 300.0,1884.6 302.7,1815.6 305.5,1760.5 308.2,1752.2 312.4,1774.3 315.1,1829.4 319.3,1898.4 324.8,1939.7 333.0,1945.2 341.3,1926.0 355.1,1906.6 363.4,1884.6 367.5,1829.4 371.7,1760.5 375.8,1741.2 379.9,1760.5 384.1,1801.8 388.2,1857.0 392.3,1926.0 397.9,1956.3 413.0,1959.0 424.1,1950.8 429.6,1946.6 436.5,1959.0 448.9,1964.5 465.4,1965.9 470.0,1970.0 483.8,1971.4 497.6,1965.9 511.4,1963.2 525.2,1950.8 539.0,1945.2 544.5,1898.4 545.8,1857.0 548.6,1774.3 551.4,1727.4 555.5,1746.7 558.3,1829.4 561.0,1884.6 563.8,1912.1 569.3,1934.2 580.3,1948.0 596.9,1959.0 605.1,1970.0 613.4,1983.9 621.7,1970.0 635.5,1978.3 649.3,1983.9 676.8,1985.2 712.7,1982.5 726.5,1989.4 745.0,1992.0 795.4,1992.1 806.1,1986.7 870.7,1986.7 900.0,1988.0 927.2,1982.7 943.3,1982.7 955.4,1974.6 967.5,1994.8 1205.5,1994.8 1209.5,1972.6 1211.1,1967.5 1214.3,1929.4 1219.0,1897.6 1225.4,1884.9 1233.3,1859.5 1238.1,1815.1 1241.3,1770.6 1246.0,1732.5 1250.8,1757.9 1254.0,1799.2 1257.1,1840.5 1260.3,1878.6 1263.5,1900.8 1268.3,1891.3 1273.0,1856.3 1279.4,1827.8 1285.7,1808.7 1292.1,1799.2 1298.4,1811.9 1304.8,1834.1 1309.5,1856.3 1314.3,1881.7 1322.2,1872.2 1327.0,1891.3 1333.3,1907.1 1346.0,1911.9 1358.7,1908.7 1377.8,1913.5 1390.5,1913.5 1396.8,1929.4 1403.2,1942.1 1412.7,1954.8 1422.2,1957.9 1428.6,1935.7 1441.3,1940.5 1454.0,1932.5 1465.1,1916.7 1471.4,1935.7 1477.8,1954.8 1485.7,1942.1 1495.2,1932.5 1500.0,1888.1 1506.3,1856.3 1511.1,1897.6 1517.5,1907.1 1527.0,1910.3 1536.5,1923.0 1542.9,1938.9 1550.8,1957.9 1558.7,1935.7 1566.7,1918.3 1574.6,1957.9 1581.0,1929.4 1587.3,1894.4 1596.8,1853.2 1604.8,1824.6 1611.1,1802.4 1615.9,1824.6 1622.2,1843.7 1630.2,1824.6 1638.1,1837.3 1647.6,1859.5 1657.1,1865.9 1660.0,1867.6 1666.2,1876.9 1675.5,1864.5 1681.8,1883.1 1688.0,1904.9 1691.1,1917.3 1695.7,1895.6 1703.5,1880.0 1709.7,1895.6 1716.0,1911.1 1722.2,1892.5 1726.8,1861.4 1733.0,1841.2 1739.3,1867.6 1745.5,1898.7 1751.7,1912.7 1759.5,1876.9 1765.7,1855.2 1774.4,1831.8 1779.7,1861.4 1784.3,1895.6 1790.6,1923.5 1796.8,1898.7 1803.0,1884.7 1812.3,1883.1 1818.5,1895.6 1824.7,1914.2 1829.4,1873.8 1832.5,1836.5 1838.7,1858.3 1846.5,1836.5 1855.2,1824.1 1862.1,1867.6 1871.4,1880.0 1879.1,1870.7 1883.8,1892.5 1891.6,1917.3 1899.4,1892.5 1904.0,1830.3 1908.1,1783.7 1913.3,1836.5 1918.0,1892.5 1924.2,1914.2 1930.4,1886.2 1939.8,1848.9 1947.5,1813.2 1952.2,1842.7 1956.9,1886.2 1964.6,1926.7 1970.8,1948.4 1978.6,1970.2 1989.5,1948.4 1998.8,1928.2 2033.0,1928.2 2039.2,1886.2 2044.8,1855.2 2051.7,1892.5 2064.1,1906.4 2070.3,1886.2 2078.1,1866.0 2082.8,1914.2 2089.0,1945.3 2107.6,1948.4 2116.9,1911.1 2123.2,1867.6 2127.0,1835.0" stroke="#f00" stroke-width="5" stroke-linecap="round" stroke-dasharray="15 12 1 13"/>
<polyline points="146.9,1526.0 147.5,1400.0 148.0,1300.0 168.5,1300.0 169.0,1333.0 170.3,1526.0 171.7,1636.4 174.5,1801.8 178.6,1691.5 181.4,1636.4 185.5,1628.1 189.6,1622.6 193.8,1636.4 195.2,1652.9 197.9,1553.6 199.3,1333.0 199.8,1300.0 214.0,1300.0 214.5,1333.0 215.8,1581.2 218.6,1801.8 221.4,1967.3 224.1,1939.7 229.6,1857.0 235.1,1774.3 242.0,1691.5 246.2,1581.2 250.3,1498.5 254.5,1415.7 258.6,1373.0 262.7,1415.7 265.5,1498.5 266.9,1595.0 269.6,1650.2 273.8,1672.2 277.9,1774.3 282.0,1857.0 286.2,1939.7 290.3,1994.9 294.4,1967.3 298.6,1857.0 301.3,1746.7 304.1,1608.8 306.9,1553.6 307.7,1548.1 311.0,1608.8 313.7,1691.5 316.5,1760.5 320.6,1829.4 324.8,1870.8 330.3,1903.9 334.4,1914.9 338.6,1892.8 344.1,1857.0 351.0,1843.2 360.6,1836.3 364.8,1815.6 368.9,1719.1 371.7,1636.4 373.9,1581.2 375.8,1577.1 378.6,1608.8 382.7,1664.0 386.8,1746.7 389.6,1829.4 392.3,1898.4 395.1,1926.0 397.9,1928.7 421.3,1928.7 425.4,1917.7 431.0,1906.6 435.1,1920.4 440.6,1935.6 457.2,1942.5 470.0,1950.8 486.5,1954.9 497.6,1948.0 511.4,1943.9 527.9,1928.7 537.6,1932.8 540.3,1912.1 543.1,1829.4 545.8,1746.7 547.2,1691.5 550.0,1622.6 551.9,1581.2 554.1,1608.8 556.9,1691.5 559.6,1774.3 562.4,1843.2 565.1,1898.4 572.0,1912.1 585.8,1926.0 599.6,1942.5 605.1,1953.5 609.3,1970.0 613.4,1981.1 620.3,1964.5 629.4,1952.1 635.5,1961.8 641.0,1975.6 663.0,1983.9 704.4,1983.9 712.7,1982.5 726.5,1990.8 745.8,1993.5 795.4,1993.5 814.2,1990.8 890.8,1992.0 898.9,1994.8 919.1,1990.8 951.4,1988.7 959.4,1985.5 967.5,1994.8 1205.5,1994.8 1213.6,1980.7 1222.2,1970.6 1231.7,1969.0 1241.3,1951.6 1247.0,1940.5 1252.4,1957.9 1258.7,1977.0 1265.1,1977.0 1279.4,1962.7 1292.1,1957.9 1304.8,1964.3 1312.7,1972.2 1323.8,1964.3 1333.3,1967.5 1346.0,1967.5 1358.7,1961.1 1374.6,1957.9 1390.5,1953.2 1403.2,1964.3 1419.0,1973.8 1425.4,1967.5 1431.7,1945.2 1442.9,1959.5 1454.0,1954.8 1465.1,1942.1 1473.0,1967.5 1479.4,1969.0 1488.9,1961.1 1496.8,1962.7 1501.6,1929.4 1505.4,1900.8 1509.5,1919.8 1514.3,1938.9 1523.8,1940.5 1536.5,1950.0 1544.4,1961.1 1550.8,1972.2 1557.1,1959.5 1565.1,1951.6 1569.8,1964.3 1574.0,1980.2 1581.0,1945.2 1590.5,1929.4 1600.0,1913.5 1606.3,1907.1 1611.7,1892.9 1619.0,1923.0 1631.7,1913.5 1641.3,1923.0 1650.8,1931.0 1657.0,1933.0 1663.5,1946.8 1666.2,1948.4 1675.5,1942.2 1683.3,1954.6 1691.1,1967.1 1697.3,1957.7 1705.1,1943.8 1714.4,1953.1 1722.2,1945.3 1728.4,1923.5 1734.6,1912.7 1740.8,1929.8 1750.1,1951.5 1759.5,1936.0 1767.2,1928.2 1774.4,1917.3 1781.2,1948.4 1790.6,1967.1 1799.9,1942.2 1812.3,1937.5 1821.6,1954.6 1827.9,1929.8 1832.5,1914.2 1838.7,1932.9 1846.5,1925.1 1855.8,1923.5 1865.2,1954.6 1871.4,1948.4 1877.6,1945.3 1883.8,1957.7 1891.6,1967.1 1900.9,1948.4 1908.7,1914.2 1914.9,1939.1 1924.2,1965.5 1936.7,1945.3 1948.5,1926.7 1958.4,1957.7 1970.8,1970.2 1983.3,1982.6 1995.7,1964.0 2033.0,1964.0 2039.2,1945.3 2045.5,1931.3 2054.8,1954.6 2067.2,1954.6 2076.5,1934.4 2084.3,1967.1 2092.1,1974.8 2107.6,1974.8 2120.1,1957.7 2127.0,1930.0" stroke="#00f" stroke-width="5"/>
</g>
<g clip-path="url(#c3)" fill="none" stroke-linejoin="round">
<polyline points="147.0,2650.0 160.0,2654.0 200.0,2652.0 208.0,2630.0 213.1,2615.3 220.0,2630.0 233.8,2640.1 250.3,2648.4 283.4,2648.4 293.1,2620.8 302.7,2631.8 319.3,2648.4 327.5,2642.9 331.7,2598.7 335.8,2557.4 340.0,2524.3 344.1,2557.4 345.5,2590.5 360.6,2604.3 367.5,2579.4 370.3,2543.6 373.0,2488.4 375.8,2455.3 378.6,2488.4 381.3,2571.1 384.1,2626.3 389.6,2651.1 396.5,2634.6 406.1,2615.3 415.8,2620.8 429.6,2612.5 437.8,2634.6 443.4,2651.1 457.2,2645.6 471.0,2637.3 479.0,2629.1 503.7,2639.2 530.7,2646.0 557.7,2649.3 582.4,2653.8 1340.0,2655.0 1348.4,2642.3 1365.0,2640.0 1378.2,2634.0 1390.0,2642.0 1401.3,2647.2 1420.0,2653.0 1688.6,2651.1 1711.3,2643.0 1727.5,2626.8 1734.0,2617.1 1750.2,2618.7 1763.1,2600.9 1769.6,2587.9 1776.1,2620.4 1784.2,2646.3 1800.0,2646.0 1811.7,2639.8 1819.8,2652.8 1837.7,2630.1 1850.0,2640.0 1866.8,2654.4 1886.3,2647.9 1915.4,2644.7 1941.4,2641.4 1964.0,2641.4 1990.0,2643.0 2012.7,2647.9 2061.3,2644.7 2093.7,2644.7 2127.0,2648.0" stroke="#000" stroke-width="5.5" stroke-linecap="round" stroke-dasharray="11 21"/>
<polyline points="147.0,2620.0 150.0,2645.0 154.0,2653.0 160.0,2654.0 200.0,2654.0 204.0,2625.0 207.0,2585.0 210.3,2551.8 214.5,2573.9 218.6,2598.7 225.5,2609.7 233.8,2618.0 244.8,2623.5 250.3,2612.5 253.1,2571.1 257.2,2502.2 261.3,2455.3 265.5,2502.2 269.6,2557.4 273.8,2579.4 282.0,2590.5 287.5,2516.0 291.7,2378.1 294.4,2281.6 297.2,2336.7 300.0,2419.5 304.1,2474.6 308.2,2516.0 316.5,2529.8 322.0,2571.1 327.5,2607.0 330.3,2488.4 333.0,2267.8 337.2,2061.0 340.0,2047.2 342.7,2157.5 344.1,2267.8 346.8,2405.7 351.0,2502.2 359.3,2540.8 364.8,2516.0 367.5,2378.1 371.7,2129.9 374.4,2005.8 375.0,1960.0 378.0,1960.0 378.6,1994.0 379.9,2240.2 382.7,2488.4 386.8,2640.1 389.6,2651.1 393.7,2598.7 397.9,2516.0 402.0,2460.8 407.5,2482.9 413.0,2504.9 421.3,2493.9 428.2,2491.2 432.3,2516.0 436.5,2571.1 440.6,2612.5 448.9,2629.0 457.2,2620.8 465.4,2607.0 470.0,2600.0 476.7,2595.3 482.4,2590.9 488.0,2603.2 497.0,2615.6 515.0,2624.6 530.7,2633.6 542.0,2640.3 560.0,2642.6 573.4,2646.0 582.4,2643.7 591.4,2649.3 616.2,2651.6 740.0,2652.0 755.6,2649.3 775.0,2653.0 1000.0,2654.0 1100.0,2653.0 1150.0,2652.2 1169.8,2648.9 1189.7,2643.9 1216.1,2639.0 1232.7,2635.6 1239.3,2624.1 1249.2,2612.5 1265.7,2609.2 1288.9,2604.2 1315.3,2592.7 1330.2,2584.4 1333.5,2564.6 1336.8,2531.5 1340.1,2498.4 1345.1,2491.8 1356.7,2490.1 1363.3,2475.3 1368.3,2442.2 1372.2,2409.1 1374.9,2399.2 1379.8,2425.7 1383.1,2458.7 1385.4,2478.6 1389.7,2458.7 1394.0,2468.7 1397.4,2498.4 1401.3,2554.6 1404.6,2597.6 1411.2,2614.2 1424.5,2610.8 1447.6,2607.5 1464.2,2605.9 1474.1,2612.5 1484.0,2615.8 1493.9,2619.1 1505.5,2604.2 1517.1,2612.5 1536.9,2619.1 1556.7,2627.4 1574.9,2635.6 1583.2,2624.1 1589.8,2615.8 1599.7,2622.4 1622.9,2630.7 1640.0,2636.6 1659.4,2643.0 1672.4,2646.3 1685.4,2641.4 1704.8,2626.8 1721.0,2607.4 1734.0,2571.7 1750.2,2584.7 1759.9,2581.5 1764.8,2545.8 1769.6,2529.6 1774.5,2555.5 1779.3,2610.6 1785.8,2636.6 1795.5,2647.9 1805.3,2623.6 1811.7,2600.9 1819.8,2626.8 1826.3,2587.9 1832.8,2581.5 1842.5,2600.9 1850.6,2623.6 1860.3,2646.3 1866.8,2652.8 1879.8,2643.0 1892.8,2634.9 1915.4,2631.7 1930.0,2633.3 1936.5,2600.9 1943.0,2560.4 1947.8,2594.4 1954.3,2617.1 1964.0,2619.7 1983.5,2612.2 1993.2,2623.6 2015.9,2626.8 2038.6,2618.7 2061.3,2607.4 2074.2,2587.9 2087.2,2591.2 2109.9,2594.4 2119.6,2597.7 2124.4,2620.4 2127.0,2635.0" stroke="#f00" stroke-width="5" stroke-linecap="round" stroke-dasharray="15 12 1 13"/>
<polyline points="146.1,2524.3 148.3,2598.7 152.4,2640.1 156.5,2653.9 199.3,2653.9 203.4,2626.3 206.2,2516.0 208.9,2433.3 212.3,2405.7 215.8,2447.1 220.0,2529.8 225.5,2557.4 236.5,2579.4 244.8,2593.2 250.3,2571.1 254.5,2460.8 258.6,2405.7 261.3,2402.9 265.5,2447.1 268.2,2529.8 271.0,2557.4 277.9,2576.7 282.0,2582.2 286.2,2516.0 288.9,2405.7 291.1,2267.8 293.1,2198.8 295.0,2179.5 297.2,2240.2 300.0,2350.5 302.7,2433.3 306.9,2488.4 311.0,2496.7 317.9,2496.7 322.0,2543.6 326.2,2598.7 328.9,2543.6 330.3,2323.0 331.7,2129.9 333.0,1994.0 333.5,1960.0 343.0,1960.0 343.5,1994.0 345.5,2129.9 348.2,2240.2 352.4,2259.5 356.5,2281.6 359.3,2303.6 363.4,2281.6 366.1,2185.0 368.9,2074.7 370.3,1994.0 370.8,1960.0 380.8,1960.0 381.3,1994.0 382.7,2212.6 384.1,2433.3 386.8,2598.7 389.6,2653.9 393.2,2598.7 396.5,2460.8 399.2,2391.9 402.0,2334.0 404.8,2350.5 408.9,2391.9 413.0,2402.9 418.5,2364.3 426.8,2353.3 433.7,2378.1 436.5,2460.8 439.2,2543.6 442.0,2579.4 457.2,2571.1 461.3,2557.4 466.0,2540.0 470.0,2522.0 474.5,2502.0 479.0,2482.9 482.4,2478.4 485.7,2491.9 489.1,2527.9 494.7,2541.4 503.7,2554.9 515.0,2570.6 526.2,2590.9 539.7,2613.3 551.0,2622.3 562.2,2629.1 571.2,2639.2 582.4,2636.9 593.7,2643.7 616.2,2645.9 638.7,2648.2 672.4,2650.4 694.9,2651.6 739.8,2651.6 753.3,2649.3 773.6,2653.8 1150.0,2655.5 1216.1,2653.8 1236.0,2651.2 1249.2,2647.2 1282.3,2645.6 1325.3,2642.3 1333.5,2634.0 1340.1,2624.1 1348.4,2622.4 1361.6,2619.1 1369.9,2612.5 1376.5,2607.5 1383.1,2618.1 1391.4,2610.8 1398.0,2627.4 1404.6,2640.6 1414.6,2647.2 1447.6,2644.6 1474.1,2642.3 1493.9,2645.6 1507.1,2640.6 1546.8,2642.3 1573.3,2647.2 1589.8,2643.9 1629.5,2647.2 1640.0,2647.9 1682.1,2651.1 1691.8,2643.0 1704.8,2630.1 1721.0,2610.6 1727.5,2594.4 1732.4,2568.5 1736.6,2565.3 1746.9,2579.8 1756.7,2589.6 1763.1,2575.0 1768.0,2542.6 1770.3,2537.7 1774.5,2568.5 1777.7,2610.6 1782.6,2636.6 1792.3,2649.5 1798.8,2647.9 1803.6,2620.4 1808.5,2587.9 1813.4,2620.4 1818.2,2651.1 1824.7,2633.3 1831.2,2617.1 1840.9,2626.8 1853.9,2641.4 1866.8,2654.4 1879.8,2647.9 1892.8,2639.8 1909.0,2639.1 1928.4,2639.1 1934.9,2644.7 1939.7,2620.4 1943.0,2604.1 1947.8,2620.4 1952.7,2636.6 1964.0,2636.6 1983.5,2632.7 1996.4,2639.8 2019.1,2639.8 2038.6,2633.3 2064.5,2622.0 2075.8,2609.0 2087.2,2615.5 2116.3,2620.4 2122.8,2630.1 2127.0,2650.0" stroke="#00f" stroke-width="5"/>
</g>
<g clip-path="url(#c4)" fill="none" stroke-linejoin="round">
<polyline points="148.3,3193.3 152.4,3229.1 156.5,3256.7 160.7,3265.0 175.9,3251.2 184.1,3270.5 186.9,3284.3 192.4,3270.5 199.3,3215.4 204.8,3242.9 208.9,3284.3 214.5,3311.9 222.7,3278.8 228.3,3234.7 235.1,3209.8 240.7,3242.9 243.4,3284.3 247.6,3307.8 269.6,3309.1 294.4,3303.6 305.0,3312.0 520.0,3311.0 533.4,3309.1 544.5,3284.3 552.7,3292.6 566.5,3306.4 591.3,3306.4 613.4,3300.9 635.5,3289.8 646.5,3281.5 654.8,3292.6 668.6,3303.6 690.6,3310.5 718.2,3310.5 734.8,3306.4 745.8,3295.3 754.1,3303.6 766.4,3305.9 802.8,3305.9 822.0,3285.6 830.6,3289.8 839.1,3309.1 864.8,3308.0 886.2,3310.2 900.0,3313.0 1130.0,3313.0 1142.6,3296.8 1160.8,3287.7 1173.0,3299.9 1185.2,3302.9 1203.4,3301.4 1215.6,3306.0 1233.9,3302.9 1261.2,3296.8 1288.6,3301.4 1319.0,3299.9 1343.4,3302.9 1361.6,3304.4 1379.9,3293.8 1404.2,3287.7 1422.5,3295.3 1452.9,3293.8 1465.1,3263.4 1477.2,3278.6 1484.8,3302.9 1494.0,3266.4 1504.6,3287.7 1519.8,3292.3 1540.0,3293.3 1563.4,3301.2 1582.9,3277.7 1598.5,3287.5 1621.9,3271.9 1643.4,3262.1 1651.2,3240.7 1659.0,3219.2 1668.8,3230.9 1680.5,3258.2 1696.1,3281.6 1711.7,3293.3 1727.3,3250.4 1739.0,3258.2 1752.6,3266.0 1774.1,3285.5 1805.3,3299.2 1832.6,3303.1 1863.8,3303.1 1887.2,3297.2 1914.6,3303.1 1949.7,3295.3 1969.2,3305.8 2000.4,3305.0 2023.8,3297.2 2031.6,3289.4 2047.2,3297.2 2064.8,3287.5 2086.2,3305.0 2105.8,3289.4 2127.0,3289.4" stroke="#000" stroke-width="5.5" stroke-linecap="round" stroke-dasharray="11 21"/>
<polyline points="148.3,2655.0 149.7,2732.7 152.4,2843.0 153.8,2981.0 155.2,3063.7 156.5,3118.8 159.3,3146.4 164.8,3143.6 173.1,3138.1 178.6,3113.3 181.0,3125.0 184.1,3174.0 186.9,3229.1 189.6,3256.7 193.8,3174.0 197.9,3091.3 200.7,3063.7 203.4,3118.8 206.2,3201.6 210.3,3270.5 214.5,3303.6 220.0,3256.7 224.1,3174.0 228.3,3118.8 232.4,3071.9 236.5,3096.8 239.3,3174.0 242.0,3229.1 246.2,3298.1 255.8,3305.0 280.0,3305.0 294.4,3270.5 305.5,3309.1 396.0,3309.0 415.8,3305.0 443.4,3300.9 471.0,3300.9 492.1,3302.3 511.4,3298.1 530.7,3292.6 536.2,3256.7 537.6,3201.6 540.3,3118.8 542.3,3036.1 544.5,2980.9 547.2,2974.0 551.4,3008.5 552.7,3063.7 555.5,3118.8 558.3,3160.2 565.1,3187.8 574.8,3207.1 585.8,3223.6 592.7,3201.6 595.5,3146.4 598.2,3105.0 602.4,3094.0 607.9,3124.3 614.8,3129.9 623.1,3140.9 627.2,3091.3 630.0,3036.1 635.5,2967.2 639.6,2925.8 643.7,2881.7 647.9,2912.0 650.6,2967.2 653.4,3063.7 656.2,3118.8 660.3,3160.2 665.8,3201.6 674.1,3229.1 685.1,3251.2 696.1,3273.3 707.2,3284.3 715.4,3270.5 723.7,3229.1 732.0,3187.8 736.1,3118.8 738.9,3036.1 741.6,2980.9 744.4,2964.4 748.5,3008.5 749.9,3077.5 751.3,3146.4 754.1,3201.6 758.2,3237.4 762.3,3201.6 768.6,3180.7 780.0,3182.0 800.6,3191.4 811.3,3206.4 816.7,3163.6 817.8,3099.5 818.8,3013.9 821.0,2928.3 824.2,2864.2 827.4,2851.3 829.5,2885.6 830.6,2949.7 831.7,3035.3 833.8,3120.9 834.9,3185.0 835.9,3227.8 839.1,3281.3 844.5,3281.3 850.9,3253.5 864.8,3277.0 881.9,3285.6 888.3,3289.8 899.0,3311.2 1128.9,3313.6 1131.9,3284.6 1135.0,3239.0 1138.0,3178.2 1141.1,3120.4 1145.6,3083.9 1150.2,3102.1 1153.2,3132.5 1156.3,3163.0 1157.8,3187.3 1160.8,3102.1 1162.4,3010.8 1163.5,2940.0 1166.0,2892.0 1168.5,2940.0 1170.5,3010.0 1171.5,3041.3 1173.0,3132.5 1174.5,3159.9 1179.1,3175.1 1185.2,3169.0 1194.3,3150.8 1197.4,3144.7 1205.0,3163.0 1208.0,3193.4 1214.1,3217.7 1221.7,3214.7 1227.8,3187.3 1230.8,3147.7 1233.9,3120.4 1241.5,3129.5 1249.1,3120.4 1255.2,3108.2 1261.2,3080.8 1267.3,3105.2 1270.4,3147.7 1273.4,3193.4 1279.5,3214.7 1285.6,3226.8 1309.9,3232.9 1325.1,3242.1 1337.3,3266.4 1352.5,3275.5 1364.7,3280.1 1376.8,3263.4 1392.1,3252.7 1401.2,3248.1 1413.4,3245.1 1419.4,3263.4 1428.6,3267.9 1437.7,3264.9 1449.9,3263.4 1459.0,3208.6 1463.6,3187.3 1469.6,3199.5 1475.7,3236.0 1481.8,3284.6 1489.4,3223.8 1495.5,3187.3 1501.5,3211.6 1509.2,3269.4 1516.8,3254.2 1524.4,3236.0 1535.0,3239.0 1540.0,3246.5 1547.8,3270.0 1563.4,3279.7 1575.1,3277.7 1582.9,3219.2 1590.7,3242.6 1598.5,3260.2 1608.3,3195.8 1616.1,3215.3 1621.9,3207.5 1629.7,3215.3 1637.5,3188.0 1645.3,3182.1 1651.2,3133.4 1655.1,3098.3 1661.0,3117.8 1668.8,3145.1 1674.6,3176.3 1684.4,3207.5 1692.2,3230.9 1703.9,3215.3 1711.7,3230.9 1719.5,3203.6 1725.3,3168.5 1733.1,3188.0 1739.0,3176.3 1746.0,3160.7 1752.6,3191.9 1766.3,3207.5 1772.2,3223.1 1778.0,3254.3 1783.9,3285.5 1793.6,3273.8 1809.2,3264.1 1828.7,3242.6 1840.4,3269.9 1856.0,3262.1 1871.6,3254.3 1881.4,3246.5 1887.2,3207.5 1895.0,3223.1 1904.8,3248.5 1922.4,3232.9 1941.9,3223.1 1951.6,3199.7 1957.5,3223.1 1963.3,3260.2 1980.9,3246.5 1990.7,3227.0 2002.3,3240.7 2008.2,3219.2 2016.0,3184.1 2027.7,3215.3 2033.6,3149.0 2039.4,3133.4 2049.2,3199.7 2058.9,3125.6 2066.0,3096.3 2074.5,3133.4 2080.4,3184.1 2084.3,3227.0 2094.0,3207.5 2101.8,3176.3 2111.6,3156.8 2117.4,3139.2 2123.3,3215.3 2127.0,3240.0" stroke="#f00" stroke-width="5" stroke-linecap="round" stroke-dasharray="11 21"/>
<polyline points="147.5,2700.0 148.0,2620.0 152.7,2620.0 153.2,2660.0 155.2,2815.5 157.9,2843.0 159.3,2925.8 160.7,2956.1 164.8,2920.3 169.0,2910.6 173.1,2923.0 175.9,2870.6 178.6,2801.7 180.0,2793.4 182.7,2870.6 184.1,2981.0 186.9,3118.8 189.6,3196.0 192.4,3118.8 195.2,2981.0 196.5,2815.5 197.9,2705.2 199.3,2655.0 199.8,2620.0 203.0,2620.0 203.4,2655.0 204.8,2815.5 206.2,2953.4 208.9,3118.8 211.7,3229.1 214.5,3300.9 218.6,3256.7 221.4,3118.8 224.1,2953.4 226.9,2815.5 229.6,2719.0 233.8,2670.7 237.9,2719.0 240.7,2870.6 243.4,3036.1 246.2,3201.6 248.9,3298.1 255.8,3302.3 277.9,3303.6 283.4,3295.4 288.9,3270.5 294.4,3254.0 298.6,3273.3 302.7,3303.6 308.2,3310.5 396.5,3310.5 404.8,3306.4 443.4,3303.6 457.2,3306.4 483.8,3310.5 497.6,3309.1 519.6,3305.0 533.4,3300.9 537.6,3270.5 540.3,3201.6 543.1,3174.0 548.6,3146.4 552.7,3174.0 555.5,3215.4 558.3,3234.7 566.5,3245.7 580.3,3256.7 590.0,3265.0 594.1,3248.5 596.9,3215.4 601.0,3196.0 605.1,3218.1 610.7,3223.6 616.2,3229.1 623.1,3240.2 627.2,3215.4 631.3,3179.5 636.9,3165.7 641.0,3146.4 645.1,3135.4 649.3,3160.2 653.4,3215.4 658.9,3256.7 665.8,3284.3 679.6,3298.1 696.1,3306.4 709.9,3307.8 721.0,3298.1 734.8,3270.5 740.3,3242.9 745.8,3204.3 749.9,3229.1 754.1,3284.3 756.8,3295.3 762.3,3284.3 766.4,3272.7 772.8,3271.7 792.1,3273.8 804.9,3275.9 812.4,3282.4 815.6,3270.6 818.8,3238.5 822.0,3206.4 826.3,3188.2 830.6,3217.1 833.8,3270.6 837.0,3304.8 840.2,3311.2 845.6,3300.5 850.9,3294.1 862.7,3299.5 875.5,3304.8 888.3,3305.9 896.9,3312.3 1130.4,3313.6 1135.0,3299.9 1141.1,3275.5 1148.7,3263.4 1153.2,3269.4 1157.8,3286.2 1162.4,3254.2 1166.3,3223.8 1170.0,3254.2 1176.1,3286.2 1188.2,3281.6 1200.4,3278.6 1209.5,3290.7 1215.6,3295.3 1224.7,3292.3 1233.9,3277.0 1243.0,3281.6 1252.1,3272.5 1264.3,3266.4 1273.4,3280.1 1282.5,3283.1 1297.7,3281.6 1313.0,3278.6 1331.2,3277.9 1343.4,3286.2 1367.7,3293.8 1373.8,3293.8 1379.9,3269.4 1384.5,3263.4 1395.1,3266.4 1410.3,3254.2 1416.4,3266.4 1422.5,3277.0 1434.6,3275.5 1449.9,3272.5 1455.9,3248.1 1462.0,3217.7 1468.1,3208.6 1474.2,3239.0 1480.3,3284.6 1483.3,3293.8 1489.4,3239.0 1495.5,3199.5 1500.0,3223.8 1504.6,3269.4 1509.2,3278.6 1516.8,3266.4 1527.4,3245.1 1538.1,3266.4 1547.8,3277.7 1559.5,3289.4 1573.2,3289.4 1579.0,3273.8 1584.9,3248.5 1590.7,3262.1 1598.5,3283.6 1604.4,3262.1 1610.2,3232.9 1618.0,3248.5 1623.9,3246.5 1631.7,3250.4 1639.5,3232.9 1645.3,3236.8 1651.2,3199.7 1655.9,3180.2 1661.0,3203.6 1668.8,3217.3 1674.6,3232.9 1680.5,3238.7 1686.3,3258.2 1692.2,3268.0 1698.0,3269.9 1703.9,3256.3 1709.7,3262.1 1713.6,3283.6 1719.5,3262.1 1726.5,3240.7 1733.1,3258.2 1742.9,3240.7 1750.7,3260.2 1758.5,3266.0 1768.2,3266.0 1774.1,3277.7 1780.0,3289.4 1787.8,3303.1 1799.5,3291.4 1813.1,3291.4 1828.7,3281.6 1840.4,3289.4 1852.1,3289.4 1863.8,3273.8 1879.5,3285.5 1889.2,3256.3 1898.9,3275.8 1910.7,3281.6 1924.3,3273.8 1941.9,3273.8 1951.6,3262.1 1961.4,3285.5 1975.0,3285.5 1988.7,3268.0 2006.2,3279.7 2016.0,3244.6 2023.8,3283.6 2035.5,3238.7 2047.2,3269.9 2064.8,3234.8 2074.5,3250.4 2080.4,3283.6 2094.0,3277.7 2105.8,3266.0 2115.5,3260.2 2123.3,3285.5 2127.0,3290.0" stroke="#00f" stroke-width="5"/>
</g>
<text class="t" x="147.0" y="3370.8" font-size="67.5" text-anchor="middle">-1.0</text>
<text class="t" x="344.9" y="3370.8" font-size="67.5" text-anchor="middle">-0.5</text>
<text class="t" x="542.7" y="3370.8" font-size="67.5" text-anchor="middle">0.0</text>
<text class="t" x="740.5" y="3370.8" font-size="67.5" text-anchor="middle">0.5</text>
<text class="t" x="938.4" y="3370.8" font-size="67.5" text-anchor="middle">1.0</text>
<text class="t" x="1136.2" y="3370.8" font-size="67.5" text-anchor="middle">1.5</text>
<text class="t" x="1334.1" y="3370.8" font-size="67.5" text-anchor="middle">2.0</text>
<text class="t" x="1532.0" y="3370.8" font-size="67.5" text-anchor="middle">2.5</text>
<text class="t" x="1729.8" y="3370.8" font-size="67.5" text-anchor="middle">3.0</text>
<text class="t" x="1927.6" y="3370.8" font-size="67.5" text-anchor="middle">3.5</text>
<text class="t" x="2125.5" y="3370.8" font-size="67.5" text-anchor="middle">4.0</text>
<text class="t" x="836" y="145" font-size="96">Cu</text>
<text class="t" x="944" y="178.5" font-size="55">2</text>
<text class="t" x="970.5" y="145" font-size="96">O</text>
<text class="t" x="1059" y="143.5" font-size="92">(100)</text>
<text class="t" x="1677" y="153" font-size="111">s</text>
<text class="t" x="1675" y="291" font-size="111">p</text>
<text class="t" x="1676.5" y="432" font-size="111">d</text>
<text class="s" x="1930" y="131.3" font-size="94">(a)</text>
<text class="s" x="1918" y="800.7" font-size="94">(b)</text>
<text class="s" x="1930" y="1456" font-size="94">(c)</text>
<text class="s" x="1906" y="2110.5" font-size="94">(d)</text>
<text class="s" x="1906" y="2791.5" font-size="94">(e)</text>
<text class="t" x="890" y="825" font-size="93">0.11 ML</text>
<text class="t" x="851" y="1491.8" font-size="93">0.22 ML</text>
<text class="t" x="841" y="2173" font-size="93">0.25 ML</text>
<text class="t" x="840" y="2807.7" font-size="93">0.33 ML</text>
<text class="t" x="812" y="3454" font-size="93" font-weight="bold">Energy (eV)</text>
<text class="t" transform="translate(89,2004) rotate(-90)" x="0" y="0" font-size="93.5" font-weight="bold">PDOS (arb. unit)</text>
<rect x="1390.5" y="44.5" width="371" height="419" fill="none" stroke="#000" stroke-width="1.2"/>
<line x1="1399" y1="113.9" x2="1634" y2="113.9" stroke="#000" stroke-width="6" stroke-linecap="round" stroke-dasharray="11 21"/>
<line x1="1398.5" y1="253.4" x2="1646.5" y2="253.4" stroke="#f00" stroke-width="5" stroke-linecap="round" stroke-dasharray="15 12 1 13"/>
<line x1="1398.5" y1="393.4" x2="1646.5" y2="393.4" stroke="#00f" stroke-width="5" stroke-linecap="round"/>
</svg>
</body></html>
